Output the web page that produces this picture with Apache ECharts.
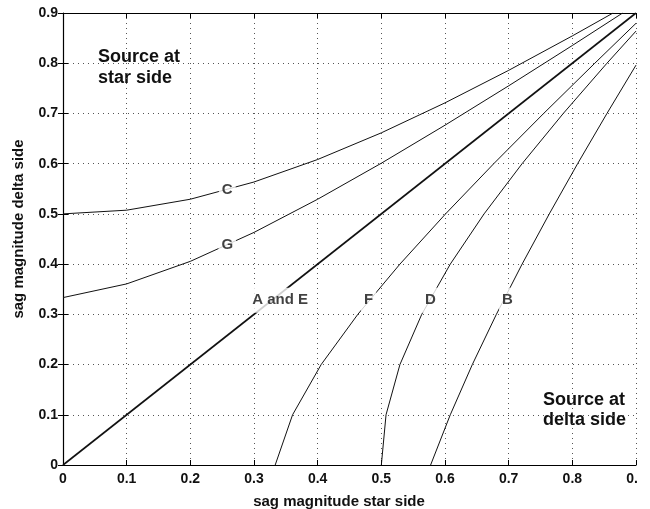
<!DOCTYPE html>
<html>
<head>
<meta charset="utf-8">
<script src="https://cdn.jsdelivr.net/npm/echarts@6/dist/echarts.min.js"></script>
<style>html,body{margin:0;padding:0;background:#fff}#c{width:650px;height:509px}</style>
</head>
<body>
<div id="c"></div>
<script>
// Curve C (star side x, delta side y)
var curveC_x = [0, 0.1, 0.2, 0.3, 0.4, 0.5, 0.6, 0.7, 0.8, 0.864];
var curveC_y = [0.5, 0.5074, 0.5292, 0.5635, 0.6083, 0.6614, 0.7211, 0.7858, 0.8544, 0.9];
// Curve G
var curveG_x = [0, 0.1, 0.2, 0.3, 0.4, 0.5, 0.6, 0.7, 0.8, 0.879];
var curveG_y = [0.3333, 0.3606, 0.4055, 0.4631, 0.5292, 0.6009, 0.6766, 0.7550, 0.8353, 0.9];
// Curve A and E
var curveAE_x = [0, 0.9];
var curveAE_y = [0, 0.9];
// Curve F
var curveF_x = [0.3333, 0.3606, 0.4055, 0.4631, 0.5292, 0.6009, 0.6766, 0.7550, 0.8353, 0.9];
var curveF_y = [0, 0.1, 0.2, 0.3, 0.4, 0.5, 0.6, 0.7, 0.8, 0.8795];
// Curve D
var curveD_x = [0.5, 0.5074, 0.5292, 0.5635, 0.6083, 0.6614, 0.7211, 0.7858, 0.8544, 0.9];
var curveD_y = [0, 0.1, 0.2, 0.3, 0.4, 0.5, 0.6, 0.7, 0.8, 0.864];
// Curve B
var curveB_x = [0.5774, 0.6083, 0.6429, 0.6807, 0.7211, 0.7638, 0.8083, 0.8544, 0.9];
var curveB_y = [0, 0.1, 0.2, 0.3, 0.4, 0.5, 0.6, 0.7, 0.7962];

// Curve labels
var labelText = ['C', 'G', 'A and E', 'F', 'D', 'B'];
var labelX = [0.258, 0.258, 0.341, 0.48, 0.577, 0.698];
var labelY = [0.548, 0.438, 0.328, 0.328, 0.328, 0.328];

// Axis ticks
var xTicks = [0, 0.1, 0.2, 0.3, 0.4, 0.5, 0.6, 0.7, 0.8, 0.9];
var yTicks = [0, 0.1, 0.2, 0.3, 0.4, 0.5, 0.6, 0.7, 0.8, 0.9];

function zip(a, b) { return a.map(function (v, i) { return [v, b[i]]; }); }

var FONT = '"Liberation Sans", Arial, Helvetica, sans-serif';

function curve(name, xs, ys, w) {
  return {
    name: name, type: 'line', data: zip(xs, ys), showSymbol: false, symbol: 'none',
    lineStyle: { color: '#111', width: w }, silent: true, z: 2, clip: true
  };
}

var chart = echarts.init(document.getElementById('c'), null, { renderer: 'canvas' });
var axisCommon = {
  type: 'value', min: xTicks[0], max: xTicks[xTicks.length - 1], interval: 0.1,
  axisLine: { show: true, onZero: false, lineStyle: { color: '#000', width: 1.2 } },
  axisTick: { show: true, inside: true, length: 5, lineStyle: { color: '#000' } },
  splitLine: { show: false }
};
chart.setOption({
  backgroundColor: '#fff',
  animation: false,
  grid: { left: 63, top: 13, right: 14, bottom: 44, containLabel: false },
  xAxis: [
    Object.assign({}, axisCommon, {
      position: 'bottom',
      axisLabel: { show: true, color: '#111', fontFamily: FONT, fontWeight: 'bold', fontSize: 14, margin: 7,
        formatter: function (v) { return String(+v.toFixed(1)); } },
      splitLine: { show: true, lineStyle: { color: '#555', type: [1, 4], width: 1 } }
    }),
    Object.assign({}, axisCommon, { position: 'top', axisLabel: { show: false } })
  ],
  yAxis: [
    Object.assign({}, axisCommon, {
      min: yTicks[0], max: yTicks[yTicks.length - 1],
      position: 'left',
      axisLabel: { show: true, color: '#111', fontFamily: FONT, fontWeight: 'bold', fontSize: 14, margin: 5,
        formatter: function (v) { return String(+v.toFixed(1)); } },
      splitLine: { show: true, lineStyle: { color: '#555', type: [1, 4], width: 1 } }
    }),
    Object.assign({}, axisCommon, { min: yTicks[0], max: yTicks[yTicks.length - 1], position: 'right',
      axisLine: { show: false }, axisLabel: { show: false } })
  ],
  graphic: [
    { type: 'rect', shape: { x: 637, y: 0, width: 13, height: 509 }, style: { fill: '#fff' }, z: 100 },
    { type: 'text', style: { text: 'sag magnitude star side', x: 339, y: 502, align: 'center', verticalAlign: 'middle',
      fill: '#111', font: 'bold 15px ' + FONT } },
    { type: 'text', x: 19, y: 229, rotation: Math.PI / 2, style: { text: 'sag magnitude delta side', x: 0, y: 0, align: 'center', verticalAlign: 'middle',
      fill: '#111', font: 'bold 15px ' + FONT } },
    { type: 'text', style: { text: 'Source at\nstar side', x: 98, y: 47, fill: '#111', font: 'bold 18px ' + FONT, lineHeight: 21 } },
    { type: 'text', style: { text: 'Source at\ndelta side', x: 543, y: 390, fill: '#111', font: 'bold 18px ' + FONT, lineHeight: 20 } }
  ],
  series: [
    curve('C', curveC_x, curveC_y, 1),
    curve('G', curveG_x, curveG_y, 1),
    curve('A and E', curveAE_x, curveAE_y, 1.6),
    curve('F', curveF_x, curveF_y, 1),
    curve('D', curveD_x, curveD_y, 1),
    curve('B', curveB_x, curveB_y, 1),
    {
      type: 'scatter', data: zip(labelX, labelY), symbolSize: 0, z: 5, silent: true,
      label: {
        show: true, position: 'inside',
        formatter: function (p) { return labelText[p.dataIndex]; },
        color: '#111', fontFamily: FONT, fontWeight: 'bold', fontSize: 15,
        backgroundColor: '#fff', padding: [5, 3, 5, 3]
      }
    }
  ]
});
</script>
</body>
</html>
